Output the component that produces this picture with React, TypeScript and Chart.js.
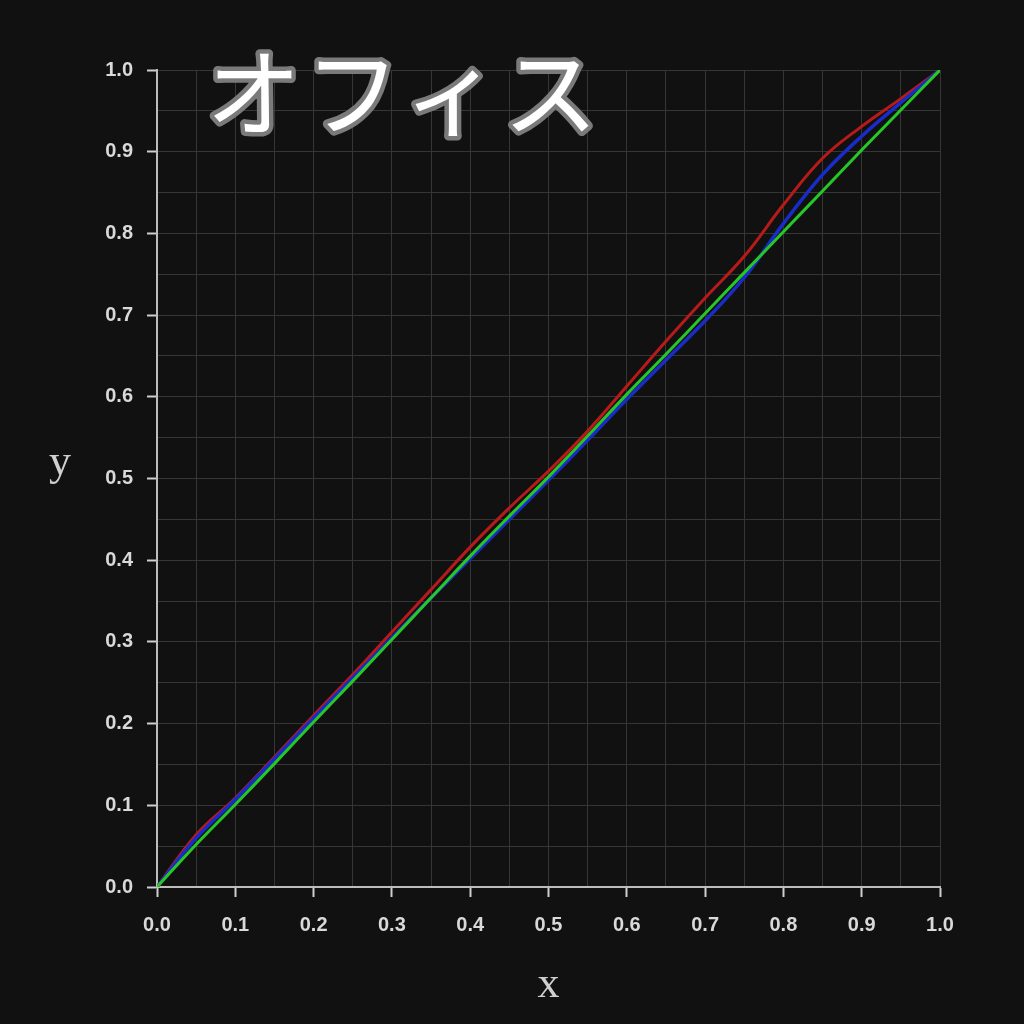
import React, { useEffect, useRef } from 'react';
import { Chart, registerables, ChartConfiguration, Plugin } from 'chart.js';

Chart.register(...registerables);

const xs: number[] = [0, 0.05, 0.1, 0.15, 0.2, 0.25, 0.3, 0.35, 0.4, 0.45, 0.5, 0.55, 0.6, 0.65, 0.7, 0.75, 0.8, 0.85, 0.9, 0.95, 1.0];

const redValues: number[] = [0, 0.064, 0.109, 0.159, 0.21, 0.26, 0.312, 0.364, 0.416, 0.464, 0.509, 0.558, 0.613, 0.668, 0.721, 0.772, 0.835, 0.892, 0.931, 0.965, 1.0];
const blueValues: number[] = [0, 0.06, 0.107, 0.157, 0.207, 0.256, 0.305, 0.354, 0.402, 0.45, 0.498, 0.547, 0.597, 0.645, 0.693, 0.746, 0.812, 0.872, 0.919, 0.96, 1.0];
const greenValues: number[] = [0, 0.052, 0.101, 0.151, 0.202, 0.252, 0.303, 0.354, 0.405, 0.454, 0.502, 0.552, 0.603, 0.652, 0.702, 0.752, 0.802, 0.852, 0.902, 0.951, 1.0];

const titleText = 'オフィス';
const xTitle = 'x';
const yTitle = 'y';

const isMajor = (v: number) => Math.abs(v * 10 - Math.round(v * 10)) < 1e-6;

const toPoints = (ys: number[]) => xs.map((x, i) => ({ x, y: ys[i] }));

// title and upright axis labels
const textPlugin: Plugin<'line'> = {
  id: 'texts',
  afterDraw(chart) {
    const ctx = chart.ctx;
    const area = chart.chartArea;
    const tx = area.left + 49;
    const ty = area.top + 23;
    ctx.save();
    ctx.font = 'normal 95px "Noto Sans CJK JP", "Noto Sans CJK SC"';
    (ctx as any).letterSpacing = '4px';
    ctx.textAlign = 'left';
    ctx.textBaseline = 'middle';
    ctx.lineJoin = 'round';
    ctx.lineCap = 'round';
    ctx.lineWidth = 9;
    ctx.strokeStyle = '#7a7a7a';
    ctx.strokeText(titleText, tx, ty);
    ctx.fillStyle = '#ffffff';
    ctx.fillText(titleText, tx, ty);
    (ctx as any).letterSpacing = '0px';

    ctx.font = '44px "Liberation Serif"';
    ctx.fillStyle = '#d0d0d0';
    ctx.textAlign = 'center';
    ctx.textBaseline = 'alphabetic';
    ctx.fillText(yTitle, 60, (area.top + area.bottom) / 2 - 4);
    ctx.fillText(xTitle, (area.left + area.right) / 2, area.bottom + 110);
    ctx.restore();
  },
};

export default function App() {
  const canvasRef = useRef<HTMLCanvasElement | null>(null);

  useEffect(() => {
    document.body.style.margin = '0';
    document.body.style.background = '#111111';
    if (!canvasRef.current) return;
    const ctx = canvasRef.current.getContext('2d');
    if (!ctx) return;

    const tickFont = { family: '"Liberation Sans", Arial, sans-serif', size: 20, weight: 'bold' as const };

    const config: ChartConfiguration<'line'> = {
      type: 'line',
      data: {
        datasets: [
          { label: 'green', data: toPoints(greenValues), borderColor: '#26c826', borderWidth: 3 },
          { label: 'blue', data: toPoints(blueValues), borderColor: '#1a2cc8', borderWidth: 3.5 },
          { label: 'red', data: toPoints(redValues), borderColor: '#b81a1a', borderWidth: 3 },
        ],
      },
      options: {
        responsive: true,
        maintainAspectRatio: false,
        animation: false,
        layout: { padding: { top: 70, right: 84, left: 0, bottom: 0 } },
        elements: {
          point: { radius: 0 },
          line: { tension: 0.4, fill: false },
        },
        plugins: {
          legend: { display: false },
          tooltip: { enabled: false },
          title: { display: false },
        },
        scales: {
          x: {
            type: 'linear',
            min: 0,
            max: 1,
            afterFit: (scale: any) => {
              scale.height = 137;
            },
            border: { display: true, color: '#bdbdbd', width: 2 },
            grid: {
              color: '#363636',
              lineWidth: 1,
              tickLength: 10,
              tickColor: (c: any) => (c.tick && isMajor(c.tick.value) ? '#cfcfcf' : 'rgba(0,0,0,0)'),
              tickWidth: 2,
            },
            ticks: {
              stepSize: 0.05,
              autoSkip: false,
              maxRotation: 0,
              padding: 16,
              color: '#d9d9d9',
              font: tickFont,
              callback: (v: any) => (isMajor(Number(v)) ? Number(v).toFixed(1) : ''),
            },
          },
          y: {
            type: 'linear',
            min: 0,
            max: 1,
            afterFit: (scale: any) => {
              scale.width = 157;
            },
            border: { display: true, color: '#bdbdbd', width: 2 },
            grid: {
              color: '#363636',
              lineWidth: 1,
              tickLength: 10,
              tickColor: (c: any) => (c.tick && isMajor(c.tick.value) ? '#cfcfcf' : 'rgba(0,0,0,0)'),
              tickWidth: 2,
            },
            ticks: {
              stepSize: 0.05,
              autoSkip: false,
              padding: 14,
              color: '#d9d9d9',
              font: tickFont,
              callback: (v: any) => (isMajor(Number(v)) ? Number(v).toFixed(1) : ''),
            },
          },
        },
      },
      plugins: [textPlugin],
    };

    const chartInstance = new Chart(ctx, config);
    return () => {
      chartInstance.destroy();
    };
  }, []);

  return (
    <div style={{ position: 'fixed', left: 0, top: 0, width: '1024px', height: '1024px', background: '#111111' }}>
      <canvas ref={canvasRef} />
    </div>
  );
}
